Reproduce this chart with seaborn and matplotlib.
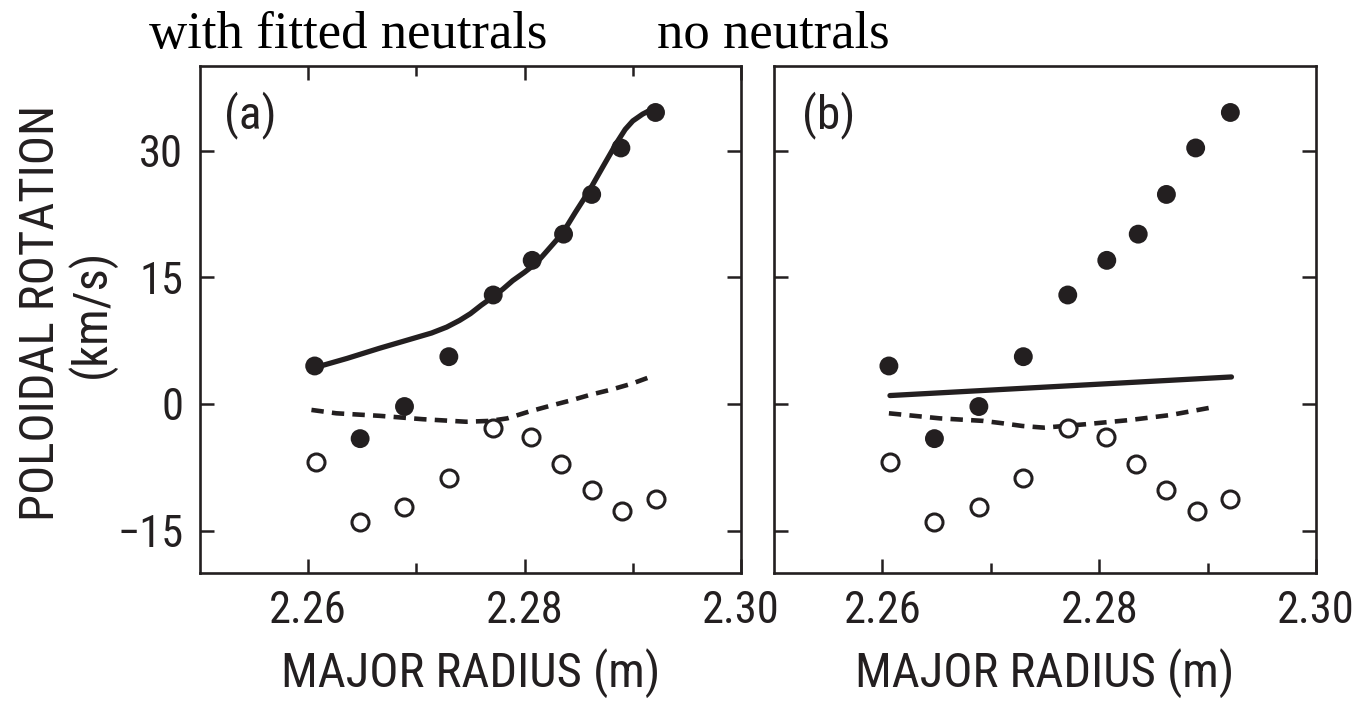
import numpy as np
import pandas as pd
import seaborn as sns
import matplotlib
matplotlib.use("Agg")
import matplotlib.pyplot as plt
from matplotlib import font_manager
from matplotlib.ticker import FixedLocator, FormatStrFormatter

# measured points (same in both panels)
r_filled = [2.2606, 2.2648, 2.2689, 2.2730, 2.2771, 2.2807, 2.2836, 2.2862, 2.2889, 2.2921]
v_filled = [4.5, -4.1, -0.3, 5.6, 12.9, 17.0, 20.1, 24.8, 30.3, 34.5]
r_open = [2.2607, 2.2648, 2.2689, 2.2730, 2.2771, 2.2806, 2.2834, 2.2862, 2.2890, 2.2921]
v_open = [-6.9, -14.0, -12.2, -8.8, -2.8, -3.9, -7.1, -10.2, -12.7, -11.3]

# (a) with fitted neutrals
ra_solid = [2.2606, 2.2636, 2.2666, 2.2682, 2.2698, 2.2714, 2.2728, 2.2740, 2.2750, 2.2760,
            2.2771, 2.2780, 2.2789, 2.2800, 2.2811, 2.2822, 2.2835, 2.2847, 2.2860, 2.2872,
            2.2885, 2.2893, 2.2900, 2.2909, 2.2915, 2.2921]
va_solid = [4.3, 5.4, 6.6, 7.2, 7.8, 8.4, 9.1, 9.9, 10.7, 11.7,
            12.7, 13.6, 14.6, 15.6, 16.7, 18.3, 20.2, 22.7, 25.3, 28.0,
            30.9, 32.5, 33.5, 34.3, 34.7, 34.9]
ra_dash = [2.2603, 2.2626, 2.2666, 2.2706, 2.2746, 2.2768, 2.2784, 2.2804, 2.2824,
           2.2842, 2.2861, 2.2880, 2.2899, 2.2916]
va_dash = [-0.7, -1.1, -1.4, -1.8, -2.1, -2.0, -1.7, -0.9, -0.2, 0.4, 1.1, 1.7, 2.4, 3.2]

# (b) no neutrals
rb_solid = [2.2607, 2.2922]
vb_solid = [1.0, 3.2]
rb_dash = [2.2606, 2.2653, 2.2693, 2.2712, 2.2729, 2.2749, 2.2787, 2.2828, 2.2866, 2.2904, 2.2908]
vb_dash = [-1.1, -1.7, -2.0, -2.3, -2.6, -2.8, -2.4, -1.9, -1.3, -0.4, -0.2]

ink = "#231f20"

sns.set_style("ticks")
# condensed sans like the original print, fall back if missing
avail = {f.name for f in font_manager.fontManager.ttflist}
narrow = [n for n in ["Roboto Condensed", "Liberation Sans Narrow", "Arial Narrow"] if n in avail]
sans = narrow[0] if narrow else "Liberation Sans"
plt.rcParams["font.family"] = [sans, "DejaVu Sans"]

fig = plt.figure(figsize=(13.56, 7.04), dpi=100)
axa = fig.add_axes([200 / 1356, 131 / 704, 541 / 1356, 507 / 704])
axb = fig.add_axes([774 / 1356, 131 / 704, 542 / 1356, 507 / 704])

df_f = pd.DataFrame({"r": r_filled, "v": v_filled})
df_o = pd.DataFrame({"r": r_open, "v": v_open})

for ax, rs, vs, rd, vd, tag in [(axa, ra_solid, va_solid, ra_dash, va_dash, "(a)"),
                                (axb, rb_solid, vb_solid, rb_dash, vb_dash, "(b)")]:
    sns.lineplot(x=rd, y=vd, ax=ax, color=ink, lw=3.3, linestyle=(0, (2.7, 1.8)), zorder=2)
    sns.lineplot(x=rs, y=vs, ax=ax, color=ink, lw=3.8, zorder=2)
    sns.scatterplot(data=df_o, x="r", y="v", ax=ax, s=150, facecolor="white",
                    edgecolor=ink, linewidth=2.2, zorder=3)
    sns.scatterplot(data=df_f, x="r", y="v", ax=ax, s=185, color=ink,
                    edgecolor="none", zorder=4)
    ax.set_xlim(2.25, 2.30)
    ax.set_ylim(-20, 40)
    ax.xaxis.set_major_locator(FixedLocator([2.26, 2.28, 2.30]))
    ax.xaxis.set_minor_locator(FixedLocator([2.27, 2.29]))
    ax.xaxis.set_major_formatter(FormatStrFormatter("%.2f"))
    ax.yaxis.set_major_locator(FixedLocator([-15, 0, 15, 30]))
    ax.tick_params(axis="both", which="major", direction="in", length=10, width=1.8,
                   color=ink, labelsize=32, labelcolor=ink, pad=12)
    ax.tick_params(axis="x", which="minor", direction="in", length=7, width=1.8, color=ink)
    ax.tick_params(axis="y", right=True)
    for sp in ax.spines.values():
        sp.set_linewidth(1.9)
        sp.set_color(ink)
    ax.set_xlabel("MAJOR RADIUS (m)", fontsize=35, color=ink, labelpad=12)
    ax.set_ylabel("")
    ax.text(0.045 if tag == "(a)" else 0.052, 0.95, tag, transform=ax.transAxes,
            fontsize=34, color=ink, ha="left", va="top")

axa.tick_params(axis="x", which="both", top=True)
axb.tick_params(axis="y", labelleft=False)

fig.text(67 / 1356, 0.555, "POLOIDAL ROTATION\n(km/s)", rotation=90, ha="center",
         va="center", multialignment="center", fontsize=35, color=ink, linespacing=1.05)

fig.text(149 / 1356, 0.932, "with fitted neutrals", family="Liberation Serif",
         fontsize=38, color="black", ha="left", va="baseline")
fig.text(657 / 1356, 0.932, "no neutrals", family="Liberation Serif",
         fontsize=38, color="black", ha="left", va="baseline")

fig.savefig("out.png", dpi=100)
